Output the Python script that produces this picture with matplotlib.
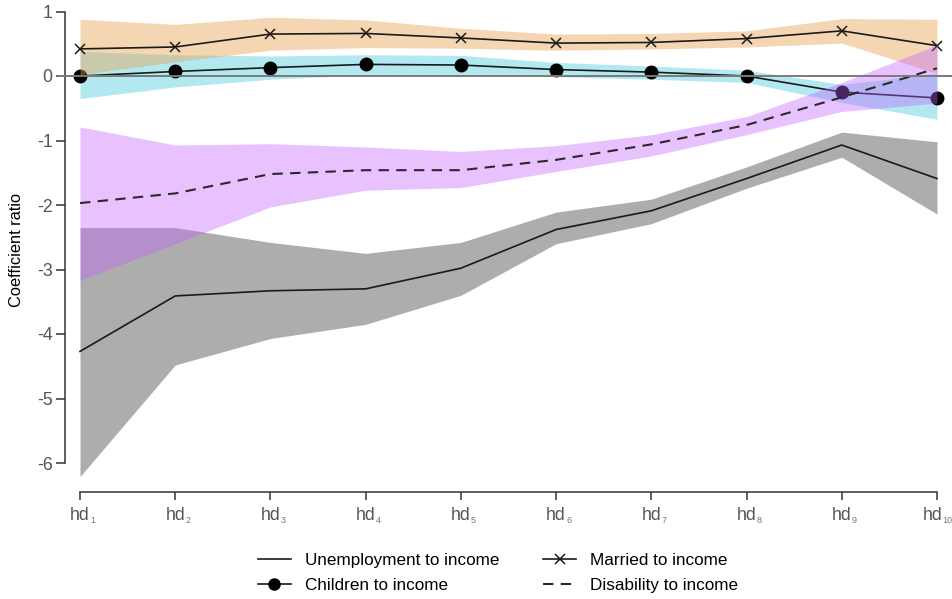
import numpy as np
import matplotlib
matplotlib.use("Agg")
import matplotlib.pyplot as plt
from matplotlib.lines import Line2D

plt.rcParams["font.family"] = ["Liberation Sans", "DejaVu Sans"]
plt.rcParams["axes.unicode_minus"] = False

# Income deciles hd1..hd10
deciles = np.arange(1, 11)
tick_base = "hd"
tick_subs = [str(d) for d in deciles]

# Unemployment to income: estimate and confidence bounds
unemp = [-4.27, -3.41, -3.33, -3.30, -2.98, -2.38, -2.09, -1.59, -1.07, -1.59]
unemp_hi = [-2.35, -2.35, -2.58, -2.75, -2.58, -2.11, -1.91, -1.41, -0.87, -1.02]
unemp_lo = [-6.21, -4.48, -4.07, -3.85, -3.40, -2.60, -2.29, -1.74, -1.26, -2.14]

# Children to income
child = [0.00, 0.07, 0.13, 0.18, 0.17, 0.10, 0.06, 0.00, -0.25, -0.34]
child_hi = [0.38, 0.33, 0.31, 0.33, 0.32, 0.21, 0.155, 0.09, -0.13, 0.04]
child_lo = [-0.35, -0.17, -0.05, 0.02, 0.02, -0.01, -0.05, -0.10, -0.41, -0.67]

# Married to income
married = [0.42, 0.45, 0.65, 0.66, 0.59, 0.51, 0.52, 0.58, 0.70, 0.47]
married_hi = [0.88, 0.80, 0.91, 0.87, 0.74, 0.65, 0.66, 0.70, 0.89, 0.88]
married_lo = [0.02, 0.22, 0.40, 0.44, 0.43, 0.40, 0.42, 0.45, 0.51, 0.04]

# Disability to income
disab = [-1.97, -1.82, -1.52, -1.46, -1.46, -1.30, -1.06, -0.76, -0.33, 0.12]
disab_hi = [-0.79, -1.07, -1.05, -1.10, -1.17, -1.08, -0.91, -0.63, -0.10, 0.48]
disab_lo = [-3.17, -2.60, -2.03, -1.77, -1.73, -1.48, -1.24, -0.91, -0.55, -0.42]

y_ticks = [-6, -5, -4, -3, -2, -1, 0, 1]

W, H = 952, 599
fig = plt.figure(figsize=(W / 100, H / 100), dpi=100)
ax = fig.add_axes([57 / W, 107 / H, 895 / W, 487 / H])

step = (937 - 80) / 9.0
ax.set_xlim(1 - (80 - 57) / step, 10 + (952 - 937) / step)
ax.set_ylim((76 - 492) / 64.5, (76 - 5) / 64.5)

line_kw = dict(color="#1a1a1a", lw=1.2)

ax.fill_between(deciles, unemp_lo, unemp_hi, color="#555555", alpha=0.48, lw=0, zorder=1)
ax.plot(deciles, unemp, zorder=2, **line_kw)

ax.fill_between(deciles, child_lo, child_hi, color="#40C8DC", alpha=0.40, lw=0, zorder=3)
ax.plot(deciles, child, marker="o", ms=9, mfc="black", mec="black", zorder=4, **line_kw)

ax.fill_between(deciles, married_lo, married_hi, color="#E8A050", alpha=0.43, lw=0, zorder=5)
ax.plot(deciles, married, marker="x", ms=6.5, mew=1.1, zorder=6, **line_kw)

ax.fill_between(deciles, disab_lo, disab_hi, color="#C060FF", alpha=0.38, lw=0, zorder=7)
ax.plot(deciles, disab, color="#2a2a2a", lw=1.5, dashes=(5, 3.5), zorder=8)

ax.axhline(0, color="#7a7a7a", lw=1.4, zorder=9)

# Detached axes
for s in ("top", "right"):
    ax.spines[s].set_visible(False)
ax.spines["left"].set_position(("data", 1 - 15 / step))
ax.spines["left"].set_bounds(-6, 1)
ax.spines["bottom"].set_bounds(1, 10)
for s in ("left", "bottom"):
    ax.spines[s].set_color("#333333")
    ax.spines[s].set_linewidth(1.1)

ax.set_yticks(y_ticks)
ax.set_yticklabels([str(v) for v in y_ticks])
ax.set_xticks(deciles)
ax.set_xticklabels([])
ax.tick_params(axis="y", length=6.5, width=1.1, color="#333333",
               labelsize=12.8, labelcolor="#555555", pad=2.5)
ax.tick_params(axis="x", length=6, width=1.1, color="#333333")

# Decile labels "hd" with a small subscript number
base_labels = []
for i, d in enumerate(deciles):
    dx = -3.0 if i == len(deciles) - 1 else 0.0
    t = ax.annotate(tick_base, xy=(d, 0), xycoords=("data", "axes fraction"),
                    xytext=(dx, -20.2), textcoords="offset points",
                    ha="center", va="baseline", fontsize=12.8, color="#555555",
                    annotation_clip=False)
    base_labels.append(t)

fig.canvas.draw()
renderer = fig.canvas.get_renderer()
for t, sub in zip(base_labels, tick_subs):
    bb = t.get_window_extent(renderer)
    fig.text((bb.x1 + 0.1) / W, (H - 523) / H, sub, ha="left", va="baseline",
             fontsize=6.5, color="#777777")

fig.text(17 / W, 1 - 250 / H, "Coefficient ratio", rotation=90,
         ha="center", va="center", fontsize=11.8, color="black")

handles = [
    Line2D([], [], color="#1a1a1a", lw=1.2),
    Line2D([], [], color="#1a1a1a", lw=1.2, marker="o", ms=8, mfc="black", mec="black"),
    Line2D([], [], color="#1a1a1a", lw=1.2, marker="x", ms=6.5, mew=1.1),
    Line2D([], [], color="#2a2a2a", lw=1.5, dashes=(5, 3.5)),
]
labels = ["Unemployment to income", "Children to income",
          "Married to income", "Disability to income"]
fig.legend(handles, labels, ncol=2, loc="center",
           bbox_to_anchor=(498 / W, 1 - 573 / H), frameon=False,
           fontsize=12.3, handlelength=1.93, handletextpad=0.82,
           columnspacing=2.57, labelspacing=0.64)

fig.savefig("out.png", dpi=100)
